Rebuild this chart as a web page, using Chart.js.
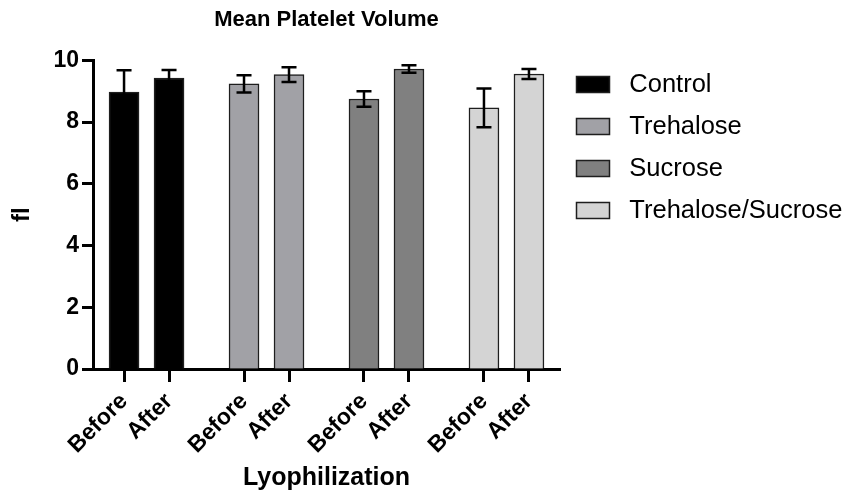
<!DOCTYPE html>
<html><head><meta charset="utf-8">
<script src="https://cdn.jsdelivr.net/npm/chart.js@4.4.1/dist/chart.umd.min.js"></script>
<style>html,body{margin:0;padding:0;background:#fff;}</style>
</head><body>
<canvas id="c" width="847" height="495" style="display:block;width:847px;height:495px"></canvas>
<script>
// ---- data ----
const groups = ['Control', 'Trehalose', 'Sucrose', 'Trehalose/Sucrose'];
const phases = ['Before', 'After'];
const meanBefore = [8.97, 9.24, 8.75, 8.46];
const meanAfter  = [9.43, 9.54, 9.72, 9.56];
const sdBefore   = [0.71, 0.28, 0.25, 0.63];
const sdAfter    = [0.26, 0.24, 0.12, 0.16];
const yTicks = [0, 2, 4, 6, 8, 10];

// ---- styling / layout ----
const FONT = "'Liberation Sans', Arial, Helvetica, sans-serif";
const fills = ['#000000', '#a1a1a6', '#808080', '#d4d4d4'];
const GROUP_STEP = 8 / 3;
const pos = (g, i) => g * GROUP_STEP + i;

const tickPositions = groups.flatMap((_, g) => phases.map((_, i) => pos(g, i)));
const tickLabels = groups.flatMap(() => phases);

const datasets = groups.map((name, g) => ({
  label: name,
  data: [{x: pos(g, 0), y: meanBefore[g]}, {x: pos(g, 1), y: meanAfter[g]}],
  err: [sdBefore[g], sdAfter[g]],
  backgroundColor: fills[g],
  borderColor: '#1e1e1e',
  borderWidth: 1.5,
  barThickness: 30,
  grouped: false
}));

const errorBars = {
  id: 'errorBars',
  afterDatasetsDraw(chart) {
    const {ctx} = chart;
    const y = chart.scales.y;
    ctx.save();
    ctx.strokeStyle = '#000';
    ctx.lineWidth = 2.5;
    chart.data.datasets.forEach((ds, i) => {
      const meta = chart.getDatasetMeta(i);
      meta.data.forEach((bar, j) => {
        const v = ds.data[j].y, e = ds.err[j];
        const top = y.getPixelForValue(v + e), bot = y.getPixelForValue(v - e);
        const x = bar.x, w = 7.5;
        ctx.beginPath();
        ctx.moveTo(x, top); ctx.lineTo(x, bot);
        ctx.moveTo(x - w, top); ctx.lineTo(x + w, top);
        ctx.moveTo(x - w, bot); ctx.lineTo(x + w, bot);
        ctx.stroke();
      });
    });
    ctx.restore();
  }
};

new Chart(document.getElementById('c'), {
  type: 'bar',
  data: {datasets},
  plugins: [errorBars],
  options: {
    responsive: false,
    animation: false,
    devicePixelRatio: 1,
    layout: {padding: {left: 0, right: 0, top: 0, bottom: 0}},
    scales: {
      x: {
        type: 'linear', min: -0.69, max: 9.69, offset: false,
        afterBuildTicks: s => { s.ticks = tickPositions.map(v => ({value: v})); },
        ticks: {
          autoSkip: false, minRotation: 45, maxRotation: 45, color: '#000', padding: 6,
          font: {family: FONT, size: 23, weight: 'bold'},
          callback: (v) => {
            const k = tickPositions.findIndex(p => Math.abs(p - v) < 1e-6);
            return k >= 0 ? tickLabels[k] : '';
          }
        },
        grid: {display: true, drawOnChartArea: false, drawTicks: true, tickLength: 13, tickWidth: 3, tickColor: '#000', offset: false},
        border: {display: true, color: '#000', width: 3},
        title: {display: true, text: 'Lyophilization', color: '#000',
          font: {family: FONT, size: 25, weight: 'bold', lineHeight: 1.2}, padding: {top: 0, bottom: 2}},
        afterFit: s => { s.height = 126; }
      },
      y: {
        type: 'linear', min: 0, max: 10,
        afterBuildTicks: s => { s.ticks = yTicks.map(v => ({value: v})); },
        ticks: {color: '#000', padding: 3, font: {family: FONT, size: 23, weight: 'bold'}},
        grid: {display: true, drawOnChartArea: false, drawTicks: true, tickLength: 11, tickWidth: 3, tickColor: '#000'},
        border: {display: true, color: '#000', width: 3},
        title: {display: true, text: 'fl', color: '#000',
          font: {family: FONT, size: 24, weight: 'bold', lineHeight: 1.2}, padding: {top: 8, bottom: 0}},
        afterFit: s => { s.width = 93; }
      }
    },
    plugins: {
      tooltip: {enabled: false},
      title: {
        display: true, text: 'Mean Platelet Volume', fullSize: false, color: '#000',
        font: {family: FONT, size: 22, weight: 'bold', lineHeight: 1.2},
        padding: {top: 7, bottom: 27}
      },
      legend: {
        position: 'right', align: 'start', fullSize: true, maxWidth: 287,
        title: {display: true, text: '', font: {size: 10, lineHeight: 1}, padding: {top: 45.3, bottom: 0}},
        labels: {
          boxWidth: 33, boxHeight: 16, padding: 16.5, color: '#000',
          font: {family: FONT, size: 25.5},
          generateLabels: chart => Chart.defaults.plugins.legend.labels.generateLabels(chart)
            .map(l => Object.assign({}, l, {text: ' ' + l.text}))
        }
      }
    }
  }
});
</script>
</body></html>
